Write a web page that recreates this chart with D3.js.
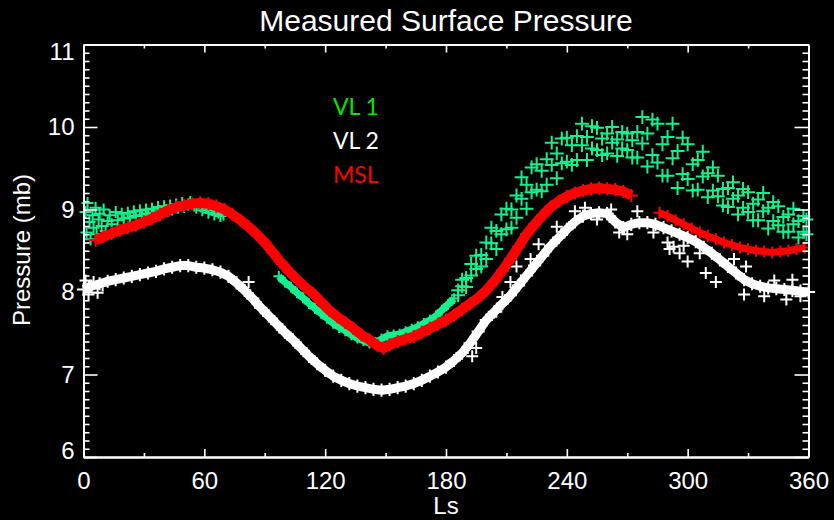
<!DOCTYPE html>
<meta charset="utf-8">
<style>
body { margin: 0; background: #000; }
svg { display: block; background: #000; }
.axis path, .axis line { stroke: #fff; }
.axis path { stroke-width: 2; }
.axis line { stroke-width: 1.6; }
.axis text { fill: #fff; font-family: "Liberation Sans", Arial, sans-serif; font-size: 24px; }
.lbl { fill: #fff; font-family: "Liberation Sans", Arial, sans-serif; }
.legend { font-family: Lato, "Open Sans", sans-serif; font-size: 23px; }
</style>
<svg width="834" height="520"></svg>
<script src="https://cdn.jsdelivr.net/npm/d3@7"></script>
<script>

// Viking Lander 1 (three stretches of the record)
var vl1Early = [[1,8.97],[1.5,8.72],[2,9.08],[3,8.85],[3.5,8.64],[4.5,8.93],[5,8.78],[6,9.02],[6.5,8.70],[7.5,8.88],
  [8,8.95],[9,8.80],[10,9.00],[11,8.74],[12,8.86],[13,8.93],[14,8.82],[16,8.97],[17,8.87],[19,8.95],[20,8.89],
  [22,8.96],[23,8.90],[25,8.98],[26,8.92],[28,8.99],[29,8.93],[31,9.00],[32,8.95],[34,9.01],[35,8.96],[37,9.03],
  [38,8.98],[40,9.04],[41,8.99],[43,9.05],[44,9.00],[46,9.06],[47,9.02],[49,9.08],[50,9.03],[52,9.06],[53,9.09],
  [55,9.05],[56,9.02],[58,9.04],[59,8.99],[61,9.02],[62,8.96],[64,8.99],[65,8.94],[67,8.96],[68,8.92],[69.5,8.94]];

var vl1Mid = [[97,8.19],[100,8.12],[103,8.06],[106,7.99],[109,7.93],[112,7.86],[115,7.80],[118,7.74],[121,7.68],
  [124,7.62],[127,7.57],[130,7.53],[133,7.48],[136,7.44],[139,7.41],[142,7.38],[145,7.39],[148,7.43],[151,7.47],
  [154,7.48],[157,7.49],[160,7.52],[163,7.55],[166,7.58],[169,7.62],[172,7.66],[175,7.71],[178,7.78],[181,7.85],[184,7.92]];

var vl1Late = [[186,7.96],[186,8.02],[188,8.07],[188,8.15],[190,8.06],[190,8.17],[192.5,8.20],[192.5,8.34],
  [195,8.28],[195,8.44],[197.5,8.45],[197.5,8.31],[200,8.40],[200,8.60],[202.5,8.59],[202.5,8.78],
  [205,8.52],[205,8.74],[207.5,8.70],[207.5,8.94],[210,8.76],[210,9.01],[212.5,9.00],[212.5,8.78],
  [215,8.90],[215,9.17],[217.5,9.13],[217.5,9.39],[220,9.01],[220,9.30],[222.5,9.21],[222.5,9.51],
  [225,9.24],[225,9.55],[227.5,9.47],[227.5,9.22],[230,9.30],[230,9.61],[232.5,9.54],[232.5,9.81],
  [235,9.38],[235,9.68],[237.5,9.56],[237.5,9.86],[240,9.58],[240,9.87],[242.5,9.78],[242.5,9.54],
  [245,9.60],[245,9.89],[247.5,9.78],[247.5,10.04],[250,9.60],[250,9.88],[252.5,9.74],[252.5,10.01],
  [255,9.72],[255,9.99],[257.5,9.86],[257.5,9.66],[260,9.68],[260,9.92],[262.5,9.81],[262.5,10.00],
  [265,9.65],[265,9.85],[267.5,9.74],[267.5,9.94],[270,9.72],[270,9.92],[272.5,9.84],[272.5,9.63],
  [275,9.63],[275,9.94],[277.5,9.80],[277.5,10.12],[280,9.52],[280,9.92],[282.5,9.66],[282.5,10.09],
  [285,9.57],[285,10.04],[287.5,9.79],[287.5,9.41],[290,9.41],[290,9.88],[292.5,9.62],[292.5,10.04],
  [295,9.26],[295,9.71],[297.5,9.43],[297.5,9.87],[300,9.37],[300,9.79],[302.5,9.55],[302.5,9.23],
  [305,9.24],[305,9.60],[307.5,9.40],[307.5,9.70],[310,9.15],[310,9.44],[312.5,9.23],[312.5,9.51],
  [315,9.16],[315,9.41],[317.5,9.25],[317.5,9.05],[320,9.03],[320,9.26],[322.5,9.13],[322.5,9.33],
  [325,8.94],[325,9.17],[327.5,9.02],[327.5,9.25],[330,8.97],[330,9.21],[332.5,9.07],[332.5,8.87],
  [335,8.87],[335,9.12],[337.5,8.98],[337.5,9.20],[340,8.77],[340,9.02],[342.5,8.86],[342.5,9.09],
  [345,8.81],[345,9.04],[347.5,8.91],[347.5,8.73],[350,8.73],[350,8.94],[352.5,8.82],[352.5,9.01],
  [355,8.66],[355,8.86],[357.5,8.73],[357.5,8.92],[359,8.70],[359,8.88]];

// Viking Lander 2
var vl2Main = [[0,8.03],[4,8.07],[8,8.10],[12,8.13],[16,8.15],[20,8.17],[24,8.19],[28,8.21],[32,8.23],[36,8.25],
  [40,8.28],[44,8.30],[48,8.32],[52,8.32],[56,8.30],[60,8.29],[64,8.27],[68,8.24],[72,8.19],[76,8.11],[80,8.02],
  [84,7.92],[88,7.81],[92,7.71],[96,7.61],[100,7.51],[104,7.42],[108,7.32],[112,7.22],[116,7.13],[120,7.05],
  [124,6.98],[128,6.93],[132,6.89],[136,6.86],[140,6.84],[144,6.82],[148,6.81],[152,6.82],[156,6.84],[160,6.86],
  [164,6.89],[168,6.93],[172,6.98],[176,7.03],[180,7.09],[184,7.17],[188,7.26],[192,7.38],[196,7.52],[200,7.66],
  [204,7.76],[208,7.86],[212,7.96],[216,8.08],[220,8.20],[224,8.32],[228,8.44],[232,8.56],[236,8.66],[240,8.76],
  [244,8.85],[248,8.92],[252,8.95],[256,8.96],[260,8.95],[264,8.85],[268,8.78],[272,8.82],[276,8.84],[280,8.84],
  [284,8.82],[288,8.78],[292,8.74],[296,8.70],[300,8.66],[304,8.61],[308,8.54],[312,8.47],[316,8.39],[320,8.31],
  [324,8.23],[328,8.15],[332,8.10],[336,8.07],[340,8.05],[344,8.04],[348,8.03],[352,8.02],[356,8.01],[360,8.00]];

var vl2Stray = [[1,8.14],[2.5,7.97],[5,8.12],[7,7.99],[9.5,8.08],[82,8.12],[193,7.22],[195,7.32],[205,7.76],
  [208,7.94],[212,8.12],[215,8.31],[222,8.40],[226,8.58],[235,8.79],[244,8.98],[249,9.02],[255,8.88],[262,9.00],
  [266,8.72],[270,8.70],[275,8.98],[283,8.72],[290,8.60],[291,8.52],[293,8.55],[296,8.47],[298,8.56],[300,8.37],
  [306,8.47],[309,8.23],[314,8.12],[323,8.40],[329,8.31],[328,7.97],[338,7.95],[343,8.14],[349,7.91],[352,8.15],[356,7.95]];

// Curiosity (MSL), two stretches
var mslA = [[6,8.63],[10,8.67],[14,8.71],[18,8.75],[22,8.78],[26,8.81],[30,8.85],[34,8.89],[38,8.94],[42,8.99],
  [46,9.03],[50,9.05],[54,9.07],[58,9.08],[62,9.07],[66,9.04],[70,9.00],[74,8.94],[78,8.87],[82,8.79],[86,8.70],
  [90,8.60],[94,8.48],[98,8.36],[102,8.25],[106,8.15],[110,8.06],[114,7.98],[118,7.88],[122,7.78],[126,7.70],
  [130,7.63],[134,7.56],[138,7.48],[142,7.42],[146,7.35],[149,7.32],[152,7.36],[156,7.40],[160,7.43],[164,7.46],
  [168,7.51],[172,7.56],[176,7.61],[180,7.66],[184,7.72],[188,7.79],[192,7.86],[196,7.93],[200,8.02],[204,8.13],
  [208,8.26],[212,8.40],[216,8.55],[220,8.70],[224,8.82],[228,8.93],[232,9.03],[236,9.10],[240,9.16],[244,9.20],
  [248,9.23],[252,9.25],[256,9.26],[260,9.25],[264,9.24],[268,9.22],[272,9.17]];

var mslB = [[286,8.96],[290,8.92],[294,8.87],[298,8.82],[302,8.77],[306,8.72],[310,8.68],[314,8.64],[318,8.60],
  [322,8.57],[326,8.54],[330,8.52],[334,8.50],[338,8.49],[342,8.48],[346,8.49],[350,8.50],[354,8.52],[358,8.54]];

var xMajor = [0, 60, 120, 180, 240, 300, 360];
var xMinor = [30, 90, 150, 210, 270, 330];
var yMajor = [6, 7, 8, 9, 10, 11];
var legendNames = ["VL 1", "VL 2", "MSL"];
var legendColors = ["#00e600", "#ffffff", "#ff0000"];

var svg = d3.select("svg");

var x = d3.scaleLinear().domain([0, 360]).range([83.5, 808.5]);
var y = d3.scaleLinear().domain([6, 11]).range([457, 44.5]);

var yMinor = d3.range(60, 111).map(function(d){ return d / 10; })
  .filter(function(d){ return Math.abs(d - Math.round(d)) > 0.01; });

var line = d3.line().x(function(d){ return x(d[0]); }).y(function(d){ return y(d[1]); });
var plus = "M-6,0H6M0,-6V6";

function band(data, color, w) {
  svg.append("path").datum(data)
    .attr("d", line)
    .attr("fill", "none")
    .attr("stroke", color)
    .attr("stroke-width", w)
    .attr("stroke-linejoin", "round")
    .attr("stroke-linecap", "butt");
}

function crosses(data, color, s) {
  svg.append("g").selectAll("path")
    .data(data)
    .enter().append("path")
      .attr("d", plus)
      .attr("transform", function(d){ return "translate(" + x(d[0]) + "," + y(d[1]) + ") scale(" + s + ")"; })
      .attr("stroke", color)
      .attr("stroke-width", 2 / s)
      .attr("fill", "none");
}

var mint = "#14f08e";

// VL 1
crosses(vl1Early, mint, 1);
band(vl1Mid, mint, 7);
crosses(vl1Mid, mint, 0.9);
crosses(vl1Late, mint, 1.15);

// VL 2
band(vl2Main, "#fff", 9);
crosses(vl2Main, "#fff", 1.1);
crosses(vl2Stray, "#fff", 1);

// MSL
band(mslA, "#f00", 10);
crosses(mslA, "#f00", 1.1);
band(mslB, "#f00", 7);
crosses(mslB, "#f00", 1);

// axes
svg.append("g").attr("class", "axis").attr("transform", "translate(0,457)")
  .call(d3.axisBottom(x).tickValues(xMajor).tickSize(-8).tickSizeOuter(0).tickPadding(15).tickFormat(d3.format("d")));
svg.append("g").attr("class", "axis").attr("transform", "translate(0,457)")
  .call(d3.axisBottom(x).tickValues(xMinor).tickSize(-4).tickSizeOuter(0).tickFormat(""));
svg.append("g").attr("class", "axis").attr("transform", "translate(0,44.5)")
  .call(d3.axisTop(x).tickValues(xMajor).tickSize(-8).tickSizeOuter(0).tickFormat(""));
svg.append("g").attr("class", "axis").attr("transform", "translate(0,44.5)")
  .call(d3.axisTop(x).tickValues(xMinor).tickSize(-4).tickSizeOuter(0).tickFormat(""));

var left = svg.append("g").attr("class", "axis").attr("transform", "translate(83.5,0)")
  .call(d3.axisLeft(y).tickValues(yMajor).tickSize(-14).tickSizeOuter(0).tickPadding(9).tickFormat(d3.format("d")));
svg.append("g").attr("class", "axis").attr("transform", "translate(83.5,0)")
  .call(d3.axisLeft(y).tickValues(yMinor).tickSize(-6).tickSizeOuter(0).tickFormat(""));
svg.append("g").attr("class", "axis").attr("transform", "translate(808.5,0)")
  .call(d3.axisRight(y).tickValues(yMajor).tickSize(-14).tickSizeOuter(0).tickFormat(""));
svg.append("g").attr("class", "axis").attr("transform", "translate(808.5,0)")
  .call(d3.axisRight(y).tickValues(yMinor).tickSize(-6).tickSizeOuter(0).tickFormat(""));

// end labels sit inside the axis range
left.selectAll("text").filter(function(d){ return d === 6; }).attr("dy", "0.05em");
left.selectAll("text").filter(function(d){ return d === 11; }).attr("dy", "0.62em");

// titles
svg.append("text").attr("class", "lbl")
  .attr("x", 446).attr("y", 31)
  .attr("text-anchor", "middle").style("font-size", "30px")
  .text("Measured Surface Pressure");

svg.append("text").attr("class", "lbl")
  .attr("x", 446).attr("y", 514)
  .attr("text-anchor", "middle").style("font-size", "24px")
  .text("Ls");

svg.append("text").attr("class", "lbl")
  .attr("transform", "translate(30,250) rotate(-90)")
  .attr("text-anchor", "middle").style("font-size", "24px")
  .text("Pressure (mb)");

// legend
svg.append("g").selectAll("text")
  .data(legendNames)
  .enter().append("text")
    .attr("class", "legend")
    .attr("x", 333)
    .attr("y", function(d, i){ return 115 + i * 34; })
    .attr("fill", function(d, i){ return legendColors[i]; })
    .text(function(d){ return d; });

</script>
